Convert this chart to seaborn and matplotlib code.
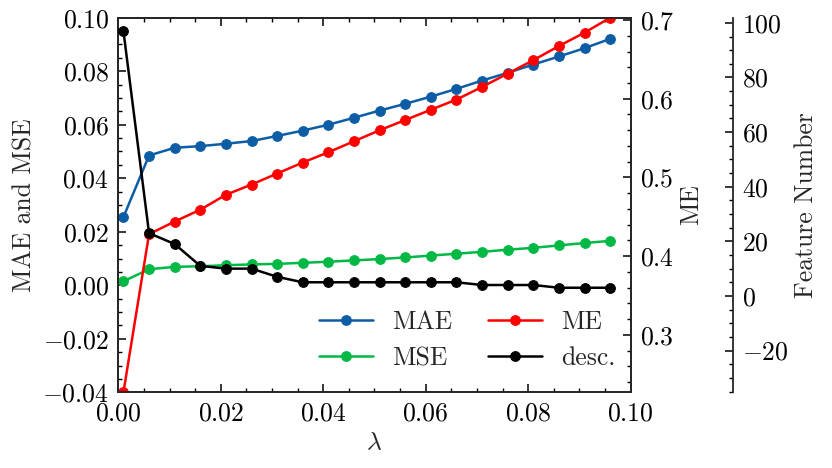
import numpy as np
import matplotlib
matplotlib.use("Agg")
import matplotlib.pyplot as plt
import seaborn as sns
from matplotlib.ticker import AutoMinorLocator, MultipleLocator

# data
lam = [0.001, 0.006, 0.011, 0.016, 0.021, 0.026, 0.031, 0.036, 0.041, 0.046,
       0.051, 0.056, 0.061, 0.066, 0.071, 0.076, 0.081, 0.086, 0.091, 0.096]
mae = [0.0255, 0.0485, 0.0514, 0.0520, 0.0529, 0.0539, 0.0558, 0.0578, 0.0600, 0.0626,
       0.0653, 0.0678, 0.0705, 0.0734, 0.0765, 0.0794, 0.0825, 0.0855, 0.0886, 0.0921]
mse = [0.0015, 0.0060, 0.0069, 0.0071, 0.0075, 0.0078, 0.0080, 0.0084, 0.0088, 0.0093,
       0.0098, 0.0104, 0.0111, 0.0118, 0.0125, 0.0133, 0.0140, 0.0149, 0.0158, 0.0166]
me = [0.227, 0.428, 0.444, 0.459, 0.478, 0.491, 0.505, 0.519, 0.532, 0.546,
      0.560, 0.573, 0.586, 0.599, 0.615, 0.632, 0.649, 0.667, 0.684, 0.703]
desc = [97, 23, 19, 11, 10, 10, 7, 5, 5, 5,
        5, 5, 5, 5, 4, 4, 4, 3, 3, 3]

fs = 18.5
sns.set_style("ticks")
plt.rcParams["font.family"] = ["cmr10", "DejaVu Serif"]
plt.rcParams["mathtext.fontset"] = "cm"
plt.rcParams["axes.formatter.use_mathtext"] = True
plt.rcParams["font.size"] = fs
plt.rcParams["axes.linewidth"] = 1.3
plt.rcParams["axes.labelpad"] = 4.0
for a in ["xtick", "ytick"]:
    plt.rcParams[a + ".direction"] = "in"
    plt.rcParams[a + ".major.size"] = 5.5
    plt.rcParams[a + ".minor.size"] = 2.8
    plt.rcParams[a + ".major.width"] = 1.1
    plt.rcParams[a + ".minor.width"] = 1.0
    plt.rcParams[a + ".major.pad"] = 6.5
    plt.rcParams[a + ".labelsize"] = fs
    plt.rcParams[a + ".color"] = "black"

fig = plt.figure(figsize=(8.32, 4.68), dpi=100)
ax = fig.add_axes([0.1422, 0.1617, 0.758 - 0.1422, 0.9622 - 0.1617])
ax2 = ax.twinx()
ax3 = ax.twinx()
ax3.spines["right"].set_position(("axes", 1.2))
for s in ["left", "top", "bottom"]:
    ax3.spines[s].set_visible(False)

lw, ms = 1.8, 7
sns.lineplot(x=lam, y=mae, ax=ax, color="#0C5DA5", marker="o", markersize=ms,
             markeredgecolor="#0C5DA5", linewidth=lw, label="MAE", legend=False)
sns.lineplot(x=lam, y=mse, ax=ax, color="#00B945", marker="o", markersize=ms,
             markeredgecolor="#00B945", linewidth=lw, label="MSE", legend=False)
sns.lineplot(x=lam, y=me, ax=ax2, color="red", marker="o", markersize=ms,
             markeredgecolor="red", linewidth=lw, label="ME", legend=False)
sns.lineplot(x=lam, y=desc, ax=ax3, color="black", marker="o", markersize=ms,
             markeredgecolor="black", linewidth=lw, label="desc.", legend=False)

ax.set_xlim(0, 0.1)
ax.set_ylim(-0.04, 0.10)
ax2.set_ylim(0.227, 0.703)
ax3.set_ylim(-35.3, 101.9)

ax.xaxis.set_major_locator(MultipleLocator(0.02))
ax.yaxis.set_major_locator(MultipleLocator(0.02))
ax2.yaxis.set_major_locator(MultipleLocator(0.1))
ax3.yaxis.set_major_locator(MultipleLocator(20))
for a in [ax.xaxis, ax.yaxis, ax2.yaxis, ax3.yaxis]:
    a.set_minor_locator(AutoMinorLocator())

ax.tick_params(which="both", top=True, bottom=True, left=True, right=False)
ax2.tick_params(which="both", right=True, left=False)
ax3.tick_params(which="both", right=True, left=False)

ax.set_xlabel(r"$\lambda$")
ax.set_ylabel("MAE and MSE")
ax2.set_ylabel("ME")
ax3.set_ylabel("Feature Number")

handles = [l for a in [ax, ax2, ax3] for l in a.get_lines()]
by_label = {h.get_label(): h for h in handles}
order = ["MAE", "MSE", "ME", "desc."]
ax3.legend([by_label[k] for k in order], order, ncol=2, frameon=False,
           loc="lower right", handlelength=2.1, handletextpad=0.74,
           columnspacing=1.4, fontsize=fs, labelspacing=0.48,
           borderaxespad=0, bbox_to_anchor=(0.991, 0.031))

fig.savefig("out.png", dpi=100)
